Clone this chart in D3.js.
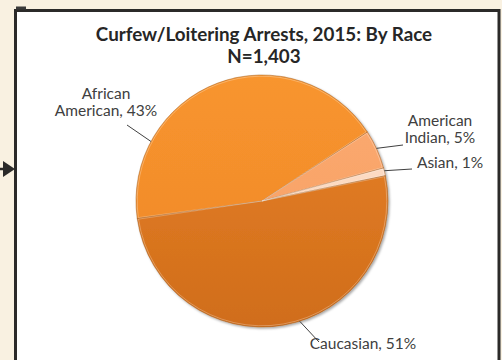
<!DOCTYPE html>
<html>
<head>
<meta charset="utf-8">
<script src="https://cdn.jsdelivr.net/npm/d3@7"></script>
<style>
  html, body { margin: 0; padding: 0; background: #f9f1e1; }
  svg { display: block; }
</style>
</head>
<body>
<svg id="chart" width="502" height="360"></svg>
<script>
// Curfew/Loitering arrests in 2015, share by race (N = 1,403)
const races = ["African American", "American Indian", "Asian", "Caucasian"];
const shares = [43, 5, 1, 51];
const labelLines = [["African", "American, 43%"], ["American", "Indian, 5%"], ["Asian, 1%"], ["Caucasian, 51%"]];
const titleLines = ["Curfew/Loitering Arrests, 2015: By Race", "N=1,403"];

// Slice fills (top colour, bottom colour of each gradient)
const fills = [
  ["#f8952e", "#ee8629"],
  ["#fbab72", "#f79d60"],
  ["#fde0cb", "#fbd2b6"],
  ["#e98329", "#d06d1a"]
];

// Label layout: angle where the leader leaves the rim, leader end and text anchor
const layout = [
  { rimAngle: 298.2, end: [-135, -76], text: [-156, -85], anchor: "middle" },
  { rimAngle: 65.3, end: [141, -56], text: [178, -58], anchor: "middle" },
  { rimAngle: 76.1, end: [150, -32], text: [188, -33], anchor: "middle" },
  { rimAngle: 162.6, end: [57, 141], text: [101, 148], anchor: "middle" }
];

const svg = d3.select("#chart");
const W = 502, H = 360;

// Panel frame
svg.append("rect").attr("x", 0).attr("y", 0).attr("width", W).attr("height", H).attr("fill", "#f9f1e1");
svg.append("rect")
  .attr("x", 15.5).attr("y", 10.5).attr("width", 483.5).attr("height", 370)
  .attr("fill", "#ffffff").attr("stroke", "#2b2a29").attr("stroke-width", 3);
svg.append("rect").attr("x", 16).attr("y", 6.5).attr("width", 10).attr("height", 3).attr("fill", "#3a3a3a");

// Pointer arrow on the left edge
svg.append("line").attr("x1", 0).attr("x2", 5).attr("y1", 169).attr("y2", 169)
  .attr("stroke", "#2b2a29").attr("stroke-width", 2.5);
svg.append("path").attr("d", "M3,161 L15,169 L3,177 Z").attr("fill", "#2b2a29");

// Title, two lines
titleLines.forEach((t, i) => {
  svg.append("text")
    .attr("x", 264).attr("y", 41 + i * 22)
    .attr("text-anchor", "middle")
    .attr("font-family", "Lato, 'Open Sans', sans-serif")
    .attr("font-weight", "bold")
    .attr("font-size", 18.8)
    .attr("fill", "#262626")
    .text(t);
});

// Pie
const cx = 262, cy = 201, R = 126;
const deg = Math.PI / 180;
const pie = d3.pie().sort(null).value(d => d)
  .startAngle(262 * deg).endAngle((262 + 360) * deg);
const arcs = pie(shares);
const arc = d3.arc().innerRadius(0).outerRadius(R);

const defs = svg.append("defs");
fills.forEach((f, i) => {
  const g = defs.append("linearGradient")
    .attr("id", "grad" + i)
    .attr("gradientUnits", "userSpaceOnUse")
    .attr("x1", 0).attr("y1", -R).attr("x2", 0).attr("y2", R);
  g.append("stop").attr("offset", "0%").attr("stop-color", f[0]);
  g.append("stop").attr("offset", "100%").attr("stop-color", f[1]);
});
const shadow = defs.append("filter").attr("id", "shadow")
  .attr("x", "-10%").attr("y", "-10%").attr("width", "120%").attr("height", "120%");
shadow.append("feDropShadow").attr("dx", 1.5).attr("dy", 1.5).attr("stdDeviation", 1.2)
  .attr("flood-color", "#000").attr("flood-opacity", 0.35);

const pieG = svg.append("g").attr("transform", `translate(${cx},${cy})`);
const slices = pieG.append("g").attr("filter", "url(#shadow)");
slices.selectAll("path.slice")
  .data(arcs)
  .join("path")
  .attr("class", "slice")
  .attr("d", arc)
  .attr("fill", (d, i) => `url(#grad${i})`)
  .attr("stroke", "#9a5416")
  .attr("stroke-opacity", 0.55)
  .attr("stroke-width", 0.8);
// soft highlight along slice edges
const innerArc = d3.arc().innerRadius(0).outerRadius(R - 1.2);
pieG.selectAll("path.hl")
  .data(arcs)
  .join("path")
  .attr("class", "hl")
  .attr("d", d => innerArc({ ...d, startAngle: d.startAngle + 0.006, endAngle: d.endAngle - 0.006 }))
  .attr("fill", "none")
  .attr("stroke", "#ffffff")
  .attr("stroke-opacity", 0.35)
  .attr("stroke-width", 0.8);

// Leader lines and labels
layout.forEach((L, i) => {
  const a = L.rimAngle * deg;
  const sx = R * Math.sin(a), sy = -R * Math.cos(a);
  pieG.append("line")
    .attr("x1", sx).attr("y1", sy).attr("x2", L.end[0]).attr("y2", L.end[1])
    .attr("stroke", "#404040").attr("stroke-width", 1);
  const t = pieG.append("text")
    .attr("text-anchor", L.anchor)
    .attr("font-family", "Lato, 'Open Sans', sans-serif")
    .attr("font-size", 15.5)
    .attr("fill", "#404040");
  const lines = labelLines[i];
  lines.forEach((s, j) => {
    t.append("tspan").attr("x", L.text[0])
      .attr("y", L.text[1] - (lines.length - 1 - j) * 17)
      .text(s);
  });
});
</script>
</body>
</html>
